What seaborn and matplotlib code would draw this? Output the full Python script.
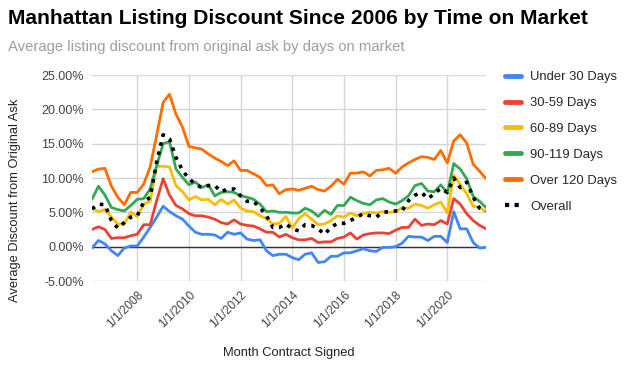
import numpy as np
import pandas as pd
import matplotlib
matplotlib.use("Agg")
import matplotlib.pyplot as plt
import seaborn as sns
from matplotlib.lines import Line2D

dates = pd.date_range("2006-04-01", periods=62, freq="QS")

under_30 = [-0.2, 0.9, 0.4, -0.6, -1.3, -0.2, 0.1, 0.1, 1.4, 2.8, 4.3, 5.9, 5.1, 4.5, 4.0, 3.0,
            2.1, 1.8, 1.8, 1.7, 1.2, 2.1, 1.8, 2.0, 1.1, 0.9, 1.0, -0.6, -1.3, -1.1, -1.1, -1.6,
            -1.9, -1.1, -0.9, -2.3, -2.2, -1.4, -1.4, -0.9, -0.9, -0.6, -0.3, -0.6, -0.7, -0.1,
            -0.1, 0.0, 0.5, 1.5, 1.4, 1.4, 0.9, 1.5, 1.5, 0.6, 5.1, 2.6, 2.6, 0.6, -0.2, -0.1]
d30_59 = [2.5, 2.9, 2.5, 1.2, 1.3, 1.3, 1.6, 1.8, 3.2, 3.2, 6.7, 9.9, 7.5, 6.0, 5.5, 4.8,
          4.5, 4.5, 4.3, 4.0, 3.5, 3.3, 3.9, 3.3, 3.1, 3.0, 2.6, 2.1, 2.1, 1.4, 1.8, 1.3,
          1.0, 1.0, 1.2, 0.6, 0.7, 0.7, 1.2, 1.4, 2.0, 1.1, 1.7, 1.9, 2.0, 2.0,
          1.9, 2.4, 2.8, 2.8, 4.0, 3.1, 3.3, 3.2, 3.8, 3.3, 7.0, 6.2, 4.8, 3.8, 3.1, 2.6]
d60_89 = [5.6, 5.1, 5.4, 4.3, 3.3, 3.3, 5.0, 4.4, 6.2, 6.6, 11.7, 11.7, 11.6, 8.9, 8.0, 6.8,
          7.3, 6.8, 6.9, 6.1, 6.9, 6.2, 6.8, 5.6, 5.2, 5.1, 4.5, 4.1, 3.3, 3.4, 4.4, 2.7,
          4.1, 4.8, 4.0, 3.2, 3.3, 3.8, 4.5, 4.3, 4.9, 4.5, 4.8, 5.0, 4.9, 5.1,
          5.0, 5.1, 5.7, 5.6, 6.2, 6.0, 5.6, 6.1, 6.5, 4.9, 10.4, 9.1, 7.7, 5.9, 5.7, 5.1]
d90_119 = [6.9, 8.8, 7.5, 5.7, 5.4, 5.2, 6.0, 6.9, 7.0, 8.4, 11.8, 15.0, 15.3, 11.3, 10.1, 9.0,
           9.4, 8.6, 9.0, 7.4, 7.9, 8.0, 7.9, 7.4, 7.2, 6.9, 6.2, 5.1, 5.2, 5.0, 5.0, 4.9,
           4.9, 5.6, 5.2, 4.4, 5.3, 4.7, 6.0, 6.0, 7.2, 6.7, 6.3, 6.1, 6.8, 7.0,
           6.5, 6.2, 6.7, 7.4, 8.9, 9.2, 8.1, 8.0, 9.0, 7.8, 12.1, 11.3, 9.9, 7.3, 6.6, 5.7]
over_120 = [10.9, 11.3, 11.4, 8.8, 7.2, 6.1, 7.9, 7.9, 9.1, 11.6, 16.2, 21.0, 22.2, 19.3, 17.4, 14.6,
            14.4, 14.2, 13.5, 12.9, 12.4, 11.8, 12.5, 11.1, 11.1, 10.6, 10.1, 8.9, 9.0, 7.7, 8.3, 8.4,
            8.2, 8.5, 8.8, 8.3, 8.1, 8.8, 9.8, 9.1, 10.7, 10.7, 10.9, 10.3, 11.1, 11.2,
            11.4, 10.7, 11.6, 12.2, 12.7, 13.1, 13.0, 12.7, 14.0, 12.2, 15.4, 16.3, 15.1, 12.0, 11.0, 9.9]
overall = [5.5, 6.2, 6.1, 3.8, 2.7, 3.5, 4.3, 4.5, 6.5, 7.2, 12.3, 16.3, 15.7, 13.0, 11.1, 9.9,
           9.1, 8.6, 8.9, 8.9, 8.0, 8.4, 8.4, 7.4, 6.6, 6.6, 5.7, 4.5, 2.8, 2.8, 3.3, 2.6,
           2.3, 3.2, 3.1, 2.6, 1.8, 2.8, 3.4, 3.4, 3.8, 4.3, 4.8, 4.5, 4.3, 5.0,
           5.1, 5.2, 5.2, 6.7, 7.5, 7.9, 7.0, 7.7, 8.5, 7.9, 10.0, 8.6, 9.4, 7.2, 5.6, 5.2]

series_names = ["Under 30 Days", "30-59 Days", "60-89 Days", "90-119 Days", "Over 120 Days", "Overall"]
series_values = [under_30, d30_59, d60_89, d90_119, over_120, overall]
colors = ["#4285F4", "#EA4335", "#FBBC04", "#34A853", "#FF6D01", "#000000"]
y_ticks = [-5, 0, 5, 10, 15, 20, 25]
x_tick_years = [2008, 2010, 2012, 2014, 2016, 2018, 2020]

df = pd.concat([pd.DataFrame({"date": dates, "value": v, "series": n})
                for n, v in zip(series_names, series_values)], ignore_index=True)

sns.set_style("white")
plt.rcParams["font.family"] = ["Liberation Sans", "DejaVu Sans"]

fig = plt.figure(figsize=(6.25, 3.77), dpi=100)
ax = fig.add_axes([92/625, 1-281/377, (486-92)/625, (281-75)/377])

palette = dict(zip(series_names, colors))
sns.lineplot(data=df, x="date", y="value", hue="series", palette=palette,
             hue_order=series_names, linewidth=2, ax=ax, legend=False)
ov_line = ax.get_lines()[-1]
ov_line.set_linestyle((0, (1, 1.6)))
ov_line.set_linewidth(2.6)

ax.set_xlim(dates[0], dates[-1])
ax.set_ylim(-5, 25)
ax.set_yticks(y_ticks)
ax.set_yticklabels([f"{t:.2f}%" for t in y_ticks], fontsize=9, color="#444444")
xt = [pd.Timestamp(f"{y}-01-01") for y in x_tick_years]
ax.set_xticks(xt)
ax.set_xticklabels([f"1/1/{y}" for y in x_tick_years], rotation=45, ha="right",
                   rotation_mode="anchor", fontsize=8.6, color="#444444")
ax.tick_params(axis="both", length=0, pad=6)
ax.grid(True, color="#d6d6d6", linewidth=1)
ax.axhline(0, color="#333333", linewidth=1, zorder=1)
for s in ax.spines.values():
    s.set_visible(False)
ax.set_xlabel("Month Contract Signed", fontsize=9.3, color="#222222")
ax.xaxis.set_label_coords(0.5, -(347 - 281) / 206)
ax.set_ylabel("Average Discount from Original Ask", fontsize=9.3, color="#222222")
ax.yaxis.set_label_coords(-(92 - 21) / 394, (281 - 200) / 206)

fig.text(8/625, 1-18/377, "Manhattan Listing Discount Since 2006 by Time on Market",
         fontsize=15.15, fontweight="bold", va="center", ha="left", color="#000000")
fig.text(8/625, 1-47/377, "Average listing discount from original ask by days on market",
         fontsize=10.7, va="center", ha="left", color="#9e9e9e")

handles = []
for n, c in zip(series_names, colors):
    if n == "Overall":
        handles.append(Line2D([0], [0], color=c, linewidth=3, linestyle=(0, (1, 1.3))))
    else:
        handles.append(Line2D([0], [0], color=c, linewidth=3.5))
fig.legend(handles, series_names, loc="upper left", bbox_to_anchor=(500/625, 1-66/377),
           frameon=False, fontsize=9.4, handlelength=1.2, handletextpad=0.7,
           labelspacing=1.05, borderaxespad=0)

fig.savefig("out.png", dpi=100)
